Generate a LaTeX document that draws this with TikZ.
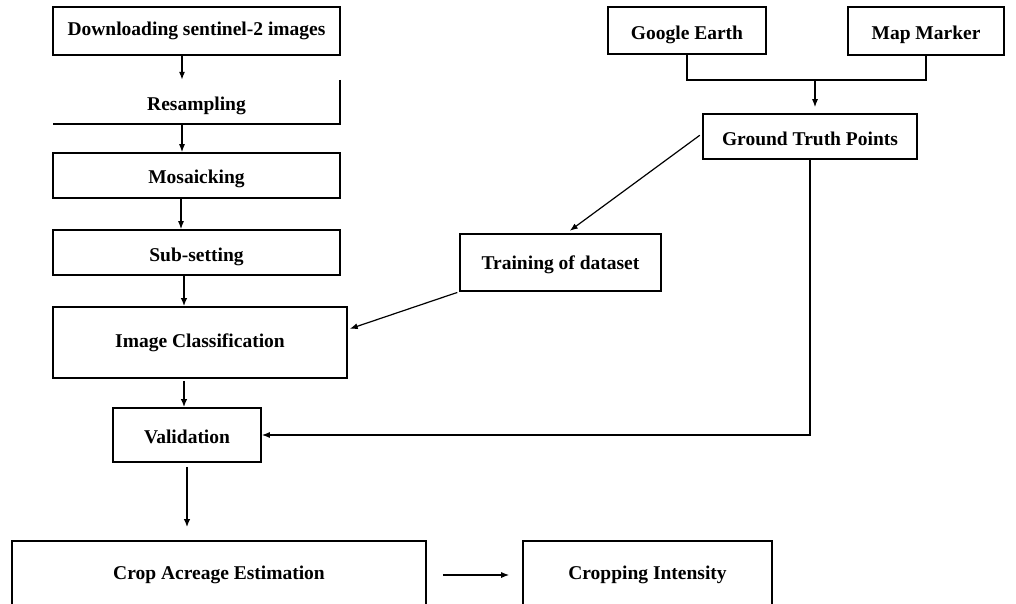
\documentclass[tikz,border=0pt]{standalone}
\usepackage{fontspec}
\setmainfont{Liberation Serif}
\usetikzlibrary{arrows.meta}
\newcommand\txdown[2]{\raisebox{-#1pt}[\height][\depth]{#2}}
\begin{document}
\begin{tikzpicture}[x=1pt,y=-1pt,
  box/.style={draw, line width=1.6pt, inner sep=0pt, font=\bfseries\fontsize{19.5}{22}\selectfont},
  plain/.style={inner sep=0pt, font=\bfseries\fontsize{19.5}{22}\selectfont},
  arr/.style={line width=1.2pt, -{Latex[length=8pt,width=6pt]}},
  tarr/.style={line width=2pt, -{Latex[length=8pt,width=6.5pt]}},
  ln/.style={line width=1.3pt}]
\useasboundingbox (0,0) rectangle (1016,604);
\clip (0,0) rectangle (1016,604);
\fill[white] (0,0) rectangle (1016,604);
% left column
\node[box, minimum width=287, minimum height=48] (dl) at (196.5,31) {Downloading sentinel-2 images};
\node[plain, minimum width=287, minimum height=44] (rs) at (196.5,102) {\txdown{4}{Resampling}};
\draw[line width=1.6pt] (rs.north east) -- (rs.south east) -- (rs.south west);
\node[box, minimum width=287, minimum height=45] (mo) at (196.5,175.5) {\txdown{3}{Mosaicking}};
\node[box, minimum width=287, minimum height=45] (su) at (196.5,252.5) {\txdown{4}{Sub-setting}};
\node[box, minimum width=294, minimum height=71] (ic) at (200,342.5) {Image Classification};
\node[box, minimum width=148, minimum height=54] (va) at (187,435) {\txdown{2}{Validation}};
\node[box, minimum width=414, minimum height=68] (cae) at (219,575) {Crop Acreage Estimation};
\node[box, minimum width=249, minimum height=68] (ci) at (647.5,575) {Cropping Intensity};
% right side
\node[box, minimum width=158, minimum height=47] (ge) at (687,30.5) {\txdown{4}{Google Earth}};
\node[box, minimum width=156, minimum height=48] (mm) at (926,31) {\txdown{4}{Map Marker}};
\node[box, minimum width=214, minimum height=45] (gtp) at (810,136.5) {\txdown{2}{Ground Truth Points}};
\node[box, minimum width=201, minimum height=57] (tr) at (560.5,262.5) {\txdown{2}{Training of dataset}};
\coordinate (j1) at (687,80);
\coordinate (j2) at (926,80);
\coordinate (j3) at (815,80);
% connectors left column
\draw[arr] ([xshift=-14.5pt]dl.south) -- ([xshift=-14.5pt]rs.north);
\draw[arr] ([xshift=-14.5pt]rs.south) -- ([xshift=-14.5pt]mo.north);
\draw[arr] ([xshift=-15.5pt]mo.south) -- ([xshift=-15.5pt]su.north);
\draw[tarr] ([xshift=-12.5pt]su.south) -- ([xshift=-16pt]ic.north);
\draw[tarr, shorten <=2pt] ([xshift=-16pt]ic.south) -- ([xshift=-3pt]va.north);
\draw[tarr, shorten <=4pt, shorten >=13pt] (va.south) -- (va.south |- cae.north);
\draw[arr, shorten <=16pt, shorten >=13pt] (cae.east) -- (ci.west);
% right connectors
\draw[ln] (ge.south) -- (j1) -- (j2) -- (mm.south);
\draw[arr, shorten >=6pt] (j3) -- (j3 |- gtp.north);
\draw[arr, shorten <=3pt, shorten >=4pt] ([yshift=3pt]gtp.west) -- ([xshift=6pt]tr.north);
\draw[arr, shorten <=2pt, shorten >=2pt] (tr.south west) -- ([yshift=13pt]ic.east);
\draw[arr] (gtp.south) |- (va.east);
\end{tikzpicture}
\end{document}
